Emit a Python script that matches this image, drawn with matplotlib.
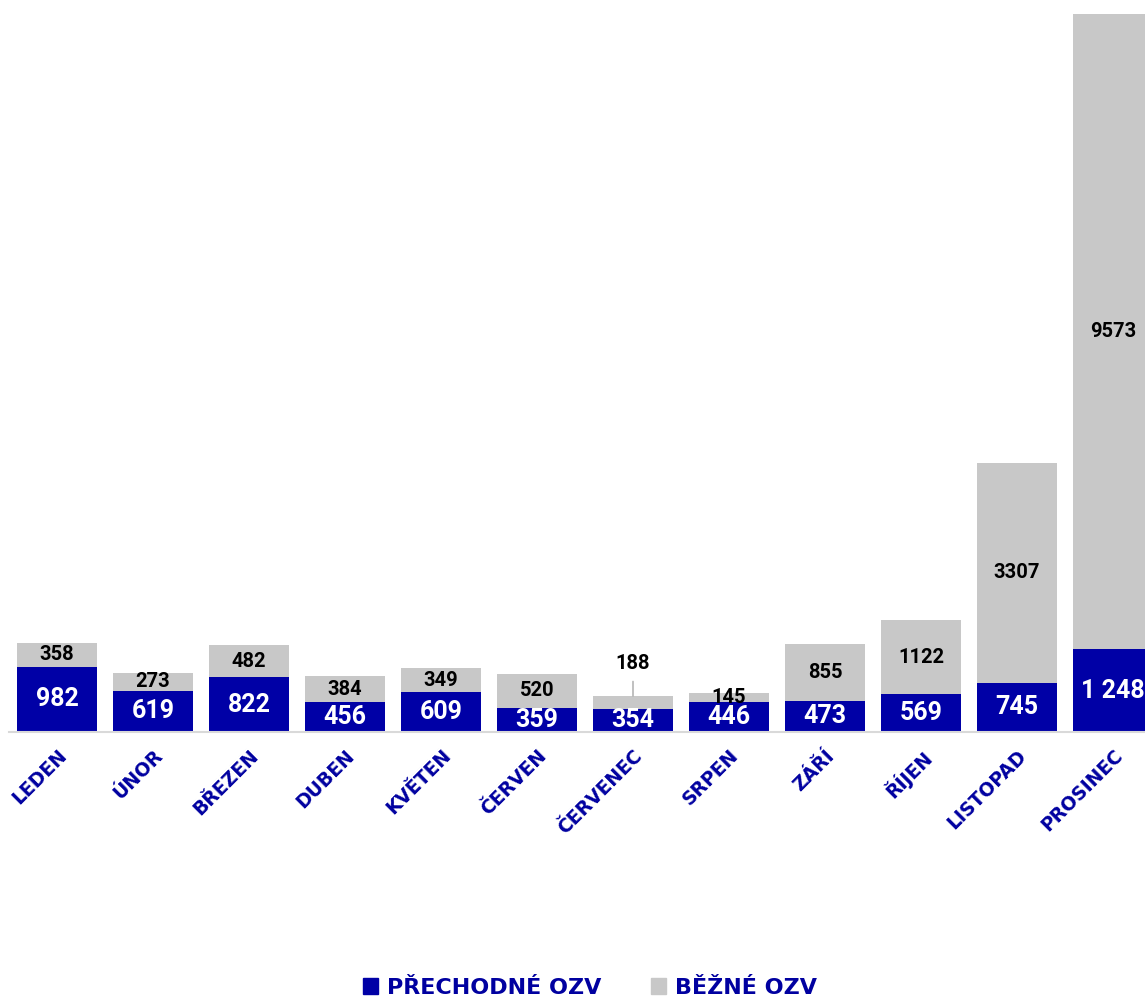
import matplotlib
matplotlib.use("Agg")
import matplotlib.pyplot as plt
from matplotlib.patches import Patch
import numpy as np

months = ["LEDEN", "ÚNOR", "BŘEZEN", "DUBEN", "KVĚTEN", "ČERVEN",
          "ČERVENEC", "SRPEN", "ZÁŘÍ", "ŘÍJEN", "LISTOPAD", "PROSINEC"]
prechodne = [982, 619, 822, 456, 609, 359, 354, 446, 473, 569, 745, 1248]
bezne = [358, 273, 482, 384, 349, 520, 188, 145, 855, 1122, 3307, 9573]

BLUE = "#0000A6"
GRAY = "#C8C8C8"
TXT_BLUE = "#0000A0"
NUMFONT = "Roboto"

W, H = 1145, 999
fig = plt.figure(figsize=(W / 100, H / 100), dpi=100)
ax = fig.add_axes([9 / W, (H - 732) / H, 1152 / W, 732 / H])
ax.set_xlim(-0.5, 11.5)
ax.set_ylim(0, 11032)

x = np.arange(len(months))
ax.bar(x, prechodne, width=0.833, color=BLUE, zorder=2)
ax.bar(x, bezne, width=0.833, bottom=prechodne, color=GRAY, zorder=2)

for s in ["top", "right", "left"]:
    ax.spines[s].set_visible(False)
ax.spines["bottom"].set_color("#D9D9D9")
ax.spines["bottom"].set_linewidth(1.5)
ax.set_yticks([])
ax.tick_params(axis="x", length=0, pad=10)
ax.set_xticks(x)
ax.set_xticklabels(months, rotation=45, ha="right", rotation_mode="anchor",
                   fontsize=13.5, fontweight="bold", color=TXT_BLUE,
                   family="DejaVu Sans")

def fmt(v):
    return f"{v:,}".replace(",", " ")

for i in range(len(months)):
    p, b = prechodne[i], bezne[i]
    ax.text(x[i], p / 2, fmt(p), ha="center", va="center", color="white",
            fontsize=18, fontweight="bold", family=NUMFONT, zorder=3)
    if months[i] == "ČERVENEC":
        ax.annotate(str(b), xy=(x[i], p + b), xytext=(x[i], p + b + 490),
                    ha="center", va="center", fontsize=14.5, fontweight="bold",
                    family=NUMFONT, color="black", zorder=3,
                    arrowprops=dict(arrowstyle="-", color="#A6A6A6", lw=1,
                                    shrinkA=4, shrinkB=0))
    else:
        ax.text(x[i], p + b / 2, str(b), ha="center", va="center",
                color="black", fontsize=14.5, fontweight="bold",
                family=NUMFONT, zorder=3)

handles = [Patch(color=BLUE, label="PŘECHODNÉ OZV"),
           Patch(color=GRAY, label="BĚŽNÉ OZV")]
leg = fig.legend(handles=handles, loc="center", bbox_to_anchor=(590 / W, 1 - 988 / H),
                 ncol=2, frameon=False, handlelength=0.7, handleheight=0.7,
                 handletextpad=0.4, columnspacing=2.2,
                 prop=dict(family="DejaVu Sans", weight="bold", size=16))
for t in leg.get_texts():
    t.set_color(TXT_BLUE)

fig.savefig("out.png", dpi=100)
